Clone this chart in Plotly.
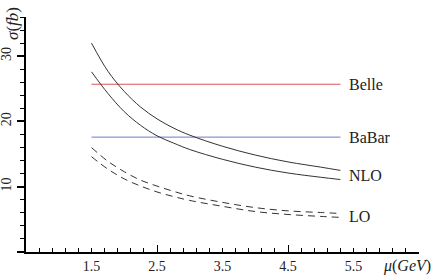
import plotly.graph_objects as go

# ---- data ----
mu = [1.5, 1.75, 2.0, 2.25, 2.5, 2.75, 3.0, 3.5, 4.0, 4.5, 5.0, 5.3]
nlo_upper = [32.0, 27.7, 24.6, 22.2, 20.4, 19.0, 17.9, 16.2, 14.85, 13.8, 13.0, 12.5]
nlo_lower = [27.6, 24.3, 21.5, 19.4, 17.8, 16.7, 15.7, 14.2, 13.0, 12.1, 11.45, 11.1]
lo_upper = [16.0, 13.9, 12.3, 11.0, 10.1, 9.3, 8.6, 7.6, 6.8, 6.3, 6.05, 5.9]
lo_lower = [14.6, 12.7, 11.2, 10.1, 9.2, 8.5, 7.9, 7.0, 6.2, 5.75, 5.45, 5.3]
exp_mu = [1.5, 5.3]
belle = 25.7
babar = 17.6
labels = ["Belle", "BaBar", "NLO", "LO"]
label_y = [25.7, 17.6, 11.7, 5.5]
x_tickvals = [1.5, 2.5, 3.5, 4.5, 5.5]
x_ticktext = ["1.5", "2.5", "3.5", "4.5", "5.5"]
y_tickvals = [0, 10, 20, 30]
y_ticktext = ["", "10", "20", "30"]

SERIF = "Liberation Serif"
CURVE = "#333333"

fig = go.Figure()
fig.add_trace(go.Scatter(x=exp_mu, y=[belle, belle], mode="lines",
                         line=dict(color="#e0505a", width=1)))
fig.add_trace(go.Scatter(x=exp_mu, y=[babar, babar], mode="lines",
                         line=dict(color="#7078c4", width=1)))
for ys in (nlo_upper, nlo_lower):
    fig.add_trace(go.Scatter(x=mu, y=ys, mode="lines", line_shape="spline",
                             line=dict(color=CURVE, width=1)))
for ys in (lo_upper, lo_lower):
    fig.add_trace(go.Scatter(x=mu, y=ys, mode="lines", line_shape="spline",
                             line=dict(color=CURVE, width=1, dash="7px,5px")))
# invisible trace to activate the overlay axis with long ticks
fig.add_trace(go.Scatter(x=[0.5], y=[0], xaxis="x2", mode="markers",
                         marker=dict(opacity=0), hoverinfo="skip"))

for txt, ly in zip(labels, label_y):
    fig.add_annotation(x=5.3, y=ly, text=txt, showarrow=False, xanchor="left",
                       yanchor="middle", xshift=7,
                       font=dict(family=SERIF, size=16, color="#222"))

fig.add_annotation(x=1.0, xref="paper", y=0, yref="paper", text="<i>μ</i>(<i>GeV</i>)",
                   showarrow=False, xanchor="right", yanchor="top", yshift=-3, xshift=14,
                   font=dict(family=SERIF, size=16, color="#222"))
fig.add_annotation(x=0, xref="paper", y=1, yref="paper", text="<i>σ</i>(<i>fb</i>)",
                   showarrow=False, textangle=-90, xanchor="center", yanchor="middle",
                   xshift=-14, yshift=-7,
                   font=dict(family=SERIF, size=17, color="#222"))

fig.update_layout(
    width=436, height=276,
    margin=dict(l=26, r=17, t=17, b=24),
    paper_bgcolor="white", plot_bgcolor="white",
    showlegend=False,
    xaxis=dict(range=[0.5, 6.5], showgrid=False, zeroline=False, automargin=False,
               showline=True, linecolor="black", linewidth=2,
               ticks="inside", ticklen=4, tickwidth=1, tickcolor="black",
               tickvals=x_tickvals, ticktext=x_ticktext,
               tickfont=dict(family=SERIF, size=14, color="#222"),
               minor=dict(ticks="inside", ticklen=4, tickwidth=1, tickcolor="black",
                          tick0=0.5, dtick=0.2, showgrid=False)),
    xaxis2=dict(range=[0.5, 6.5], overlaying="x", side="bottom", showgrid=False,
                zeroline=False, showline=False, ticks="inside", ticklen=7,
                automargin=False,
                tickwidth=1, tickcolor="black", tickvals=[0.5, 2.5, 4.5, 6.5],
                showticklabels=False),
    yaxis=dict(range=[0, 36], showgrid=False, zeroline=False, automargin=False,
               showline=True, linecolor="black", linewidth=2,
               ticks="outside", ticklen=7, tickwidth=1.5, tickcolor="black",
               tickvals=y_tickvals, ticktext=y_ticktext, tickangle=-90,
               tickfont=dict(family=SERIF, size=14, color="#222"),
               minor=dict(ticks="outside", ticklen=4, tickwidth=1, tickcolor="black",
                          tick0=0, dtick=2, showgrid=False)),
)

# remove the browser's default 8px body margin so the figure sits at the page origin
fig.write_html("out.html", config={"displayModeBar": False},
               post_script="document.body.style.margin='0';")
